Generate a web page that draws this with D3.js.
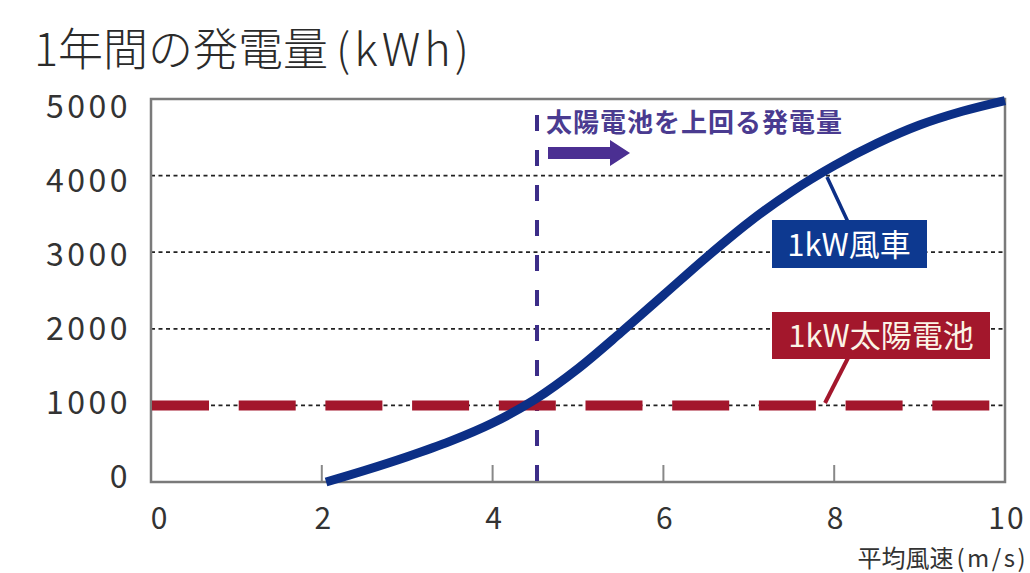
<!DOCTYPE html>
<html>
<head>
<meta charset="utf-8">
<script src="https://cdn.jsdelivr.net/npm/d3@7"></script>
<style>
  body { margin: 0; background: #fff; }
  svg text { font-family: "Noto Sans CJK JP", "Noto Sans", sans-serif; }
</style>
</head>
<body>
<svg id="chart" width="1030" height="573"></svg>
<script>
let titleMain = "1年間の発電量"
let titleUnit = "(kWh)"
let xTitleMain = "平均風速"
let xTitleUnit = "(m/s)"
let note = "太陽電池を上回る発電量"
let windLabel = "1kW風車"
let solarLabel = "1kW太陽電池"

let xTicks = [0, 2, 4, 6, 8, 10]
let yTicks = [0, 1000, 2000, 3000, 4000, 5000]
let gridTicks = [1000, 2000, 3000, 4000]

let speeds     = [2.05, 2.5, 3,   3.5, 4,   4.5,  5,    5.5,  6,    6.5,  7,    7.5,  8,    8.5,  9,    9.5,  10]
let windOutput = [0,    150, 330, 530, 770, 1080, 1480, 1950, 2440, 2930, 3390, 3790, 4130, 4420, 4660, 4840, 4980]
let solarOutput = 1000
let crossSpeed = 4.52

let svg = d3.select("#chart")

let x = d3.scaleLinear().domain([0, 10]).range([151, 1005])
let y = d3.scaleLinear().domain([0, 5000]).range([482, 99])
// tick labels in the original sit a little off the grid lines
let yLabel = d3.scaleLinear().domain([0, 5000]).range([487.5, 118])

// title
let t = svg.append("text")
  .attr("x", 34).attr("y", 66)
  .attr("font-size", 45).attr("font-weight", 300).attr("fill", "#2b2b2b")
t.append("tspan").text(titleMain)
t.append("tspan").attr("dx", 8).attr("letter-spacing", 4).text(titleUnit)

// dashed grid
svg.append("g").selectAll("line")
  .data(gridTicks)
  .enter().append("line")
    .attr("x1", x(0)).attr("x2", x(10))
    .attr("y1", d => y(d)).attr("y2", d => y(d))
    .style("stroke", "#222").style("stroke-width", 1.7)
    .style("stroke-dasharray", "4,3.5")

// bottom inner ticks
svg.append("g").selectAll("line")
  .data(xTicks.slice(1, -1))
  .enter().append("line")
    .attr("x1", d => x(d)).attr("x2", d => x(d))
    .attr("y1", y(0)).attr("y2", y(0) - 17)
    .style("stroke", "#888").style("stroke-width", 2)

// frame
svg.append("rect")
  .attr("x", x(0)).attr("y", y(5000))
  .attr("width", x(10) - x(0)).attr("height", y(0) - y(5000))
  .style("fill", "none").style("stroke", "#7a7a7a").style("stroke-width", 2.5)

// y labels
svg.append("g").selectAll("text")
  .data(yTicks)
  .enter().append("text")
    .attr("x", 131).attr("y", d => yLabel(d))
    .attr("text-anchor", "end")
    .attr("font-size", 32).attr("letter-spacing", 3.5).attr("fill", "#333")
    .text(d => d)

// x labels
svg.append("g").selectAll("text")
  .data(xTicks)
  .enter().append("text")
    .attr("x", d => d === 0 ? x(d) + 9 : x(d) + 2).attr("y", 529)
    .attr("text-anchor", "middle")
    .attr("font-size", 30).attr("letter-spacing", 2).attr("fill", "#333")
    .text(d => d)

let xt = svg.append("text")
  .attr("x", 1028).attr("y", 567)
  .attr("text-anchor", "end")
  .attr("font-size", 24).attr("fill", "#333")
xt.append("tspan").text(xTitleMain)
xt.append("tspan").attr("dx", 3).attr("letter-spacing", 2.5).text(xTitleUnit)

// vertical crossover line
svg.append("line")
  .attr("x1", x(crossSpeed)).attr("x2", x(crossSpeed))
  .attr("y1", 115).attr("y2", y(0))
  .style("stroke", "#3c2d88").style("stroke-width", 4)
  .style("stroke-dasharray", "16,19")

// arrow
let ax = x(crossSpeed)
let ay = 153
svg.append("path")
  .attr("d", `M${ax + 11},${ay - 6} L${ax + 73},${ay - 6} L${ax + 73},${ay - 13} L${ax + 93},${ay} L${ax + 73},${ay + 13} L${ax + 73},${ay + 6} L${ax + 11},${ay + 6} Z`)
  .style("fill", "#4b2f92")

svg.append("text")
  .attr("x", ax + 9).attr("y", 132)
  .attr("font-size", 26).attr("letter-spacing", 1).attr("font-weight", "bold").attr("fill", "#4a3b90")
  .text(note)

// solar line
svg.append("line")
  .attr("x1", x(0) + 1).attr("x2", x(9.82))
  .attr("y1", y(solarOutput)).attr("y2", y(solarOutput))
  .style("stroke", "#a3172c").style("stroke-width", 10)
  .style("stroke-dasharray", "57,29.7")

// wind curve
let line = d3.line().x(d => x(d[0])).y(d => y(d[1])).curve(d3.curveMonotoneX)
svg.append("path")
  .datum(d3.zip(speeds, windOutput))
  .attr("d", line)
  .style("fill", "none").style("stroke", "#0c2f86").style("stroke-width", 9)

// wind label
svg.append("line")
  .attr("x1", 827).attr("y1", 177).attr("x2", 848).attr("y2", 222)
  .style("stroke", "#0c2f86").style("stroke-width", 3.5)
svg.append("rect")
  .attr("x", 772).attr("y", 220).attr("width", 155).attr("height", 48)
  .style("fill", "#0d3990")
svg.append("text")
  .attr("x", 849).attr("y", 256)
  .attr("text-anchor", "middle")
  .attr("font-size", 31).attr("fill", "#fff")
  .text(windLabel)

// solar label
svg.append("line")
  .attr("x1", 848).attr("y1", 358).attr("x2", 825).attr("y2", 403)
  .style("stroke", "#a3172c").style("stroke-width", 4)
svg.append("rect")
  .attr("x", 772).attr("y", 312).attr("width", 218).attr("height", 47)
  .style("fill", "#a3172c")
svg.append("text")
  .attr("x", 881).attr("y", 347)
  .attr("text-anchor", "middle")
  .attr("font-size", 31).attr("fill", "#fbf3e6")
  .text(solarLabel)
</script>
</body>
</html>
